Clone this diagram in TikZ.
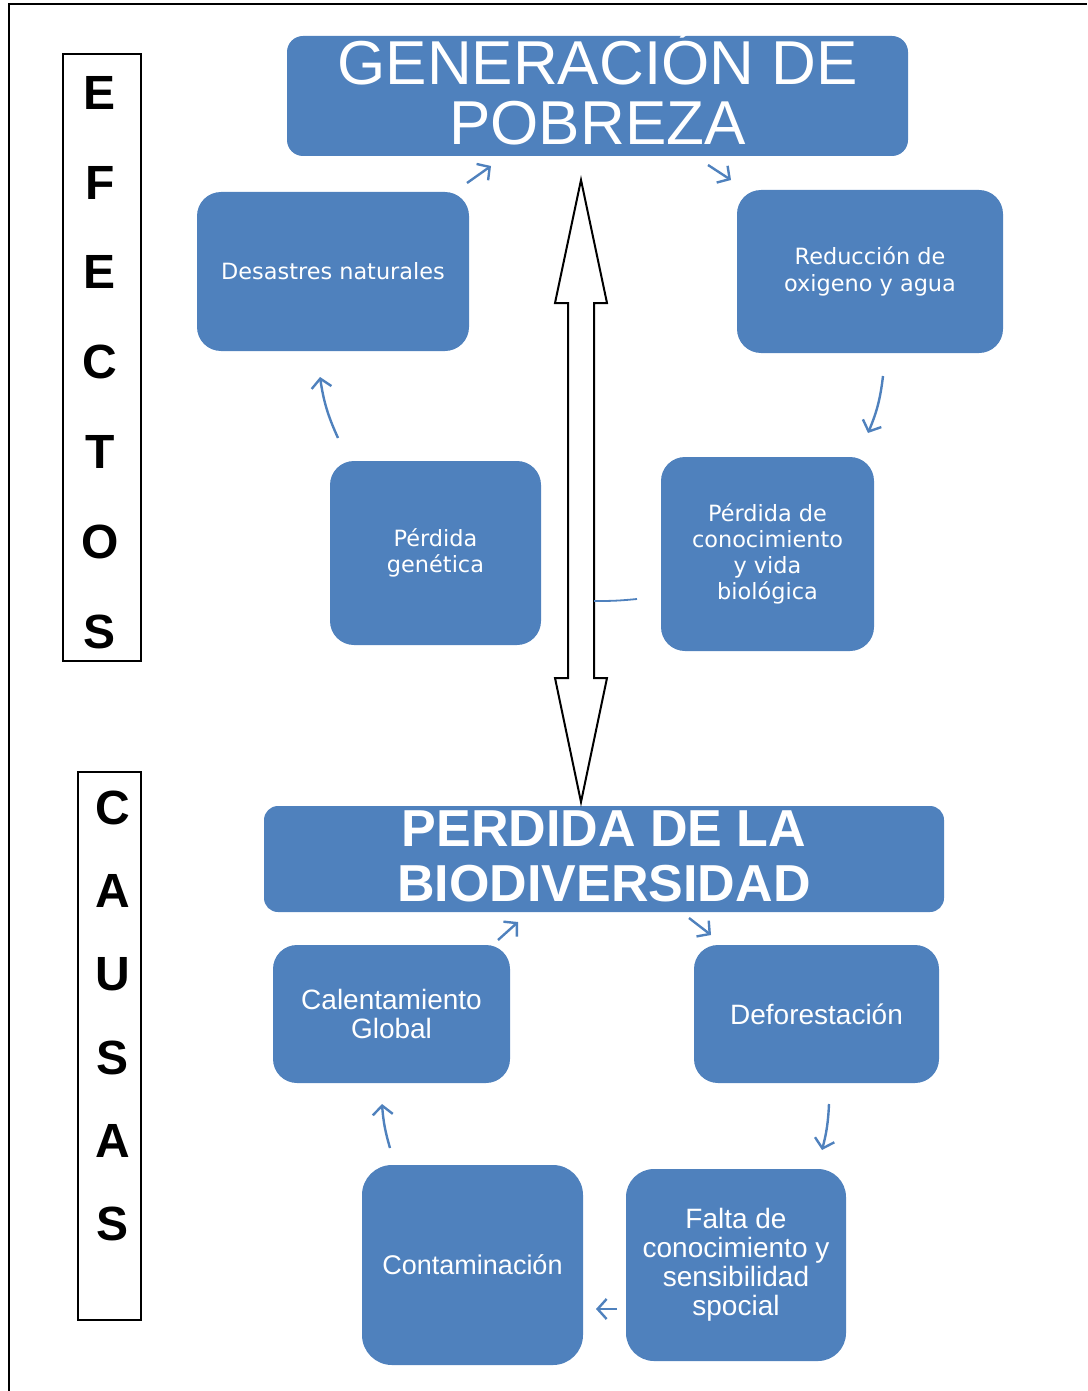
\documentclass[tikz,border=0pt]{standalone}
\usepackage{fontspec}
\setmainfont{Liberation Sans}
\newfontfamily\dvs{DejaVu Sans}
\usetikzlibrary{arrows.meta}
\definecolor{boxblue}{RGB}{79,129,189}
\begin{document}
\begin{tikzpicture}[x=0.5pt,y=-0.5pt,
  bluebox/.style={fill=boxblue, text=white, align=center, inner sep=0pt, rounded corners=12pt},
  whitetext/.style={text=white, align=center, inner sep=0pt},
  smallfont/.style={font=\dvs\fontsize{11.2}{13.3}\selectfont},
  midfont/.style={font=\fontsize{14}{14.5}\selectfont},
  smallarrow/.style={draw=boxblue, line width=1.2pt, -{Straight Barb[length=4.5pt,width=10pt]}},
  labelbox/.style={draw=black, line width=1pt, inner sep=0pt},
  labeltext/.style={align=center, inner sep=0pt, font=\bfseries\fontsize{24}{44.9}\selectfont}]
\useasboundingbox (0,0) rectangle (1087,1391);
% frame
\draw[line width=1pt] (8,4) -- (1087,4);
\draw[line width=0.8pt] (9,4) -- (9,1391);
% side labels
\node[labelbox, minimum width=39pt, minimum height=303.5pt] (efbox) at (102,357.5) {};
\node[labeltext] (eftext) at (100,362.5) {E\\F\\E\\C\\T\\O\\S};
\node[labelbox, minimum width=31.5pt, minimum height=274pt] (cabox) at (109.5,1046) {};
\node[labeltext, font=\bfseries\fontsize{24}{41.6}\selectfont] (catext) at (113,1016) {C\\A\\U\\S\\A\\S};
% top boxes
\node[bluebox, minimum width=310.5pt, minimum height=60pt, rounded corners=8pt] (gen) at (597.5,96) {};
\node[whitetext, font=\fontsize{31}{30}\selectfont] (gentext) at (597.5,88) {GENERACIÓN DE\\POBREZA};
\node[bluebox, smallfont, minimum width=136pt, minimum height=79.5pt] (des) at (333,271.5) {Desastres naturales};
\node[bluebox, smallfont, minimum width=133pt, minimum height=81.5pt] (red) at (870,271.5) {Reducción de\\oxigeno y agua};
\node[bluebox, smallfont, minimum width=105.5pt, minimum height=92pt] (pgen) at (435.5,553) {Pérdida\\genética};
\node[bluebox, smallfont, font=\dvs\fontsize{11.2}{13}\selectfont, minimum width=106.5pt, minimum height=97pt] (pcon) at (767.5,554) {Pérdida de\\conocimiento\\y vida\\biológica};
% bottom boxes
\node[bluebox, minimum width=340pt, minimum height=53pt, rounded corners=7pt] (per) at (604,859) {};
\node[whitetext, font=\bfseries\fontsize{26}{27.5}\selectfont] (pertext) at (604,856) {PERDIDA DE LA\\BIODIVERSIDAD};
\node[bluebox, midfont, minimum width=118.5pt, minimum height=69pt] (cal) at (391.5,1014) {Calentamiento\\Global};
\node[bluebox, midfont, minimum width=122.5pt, minimum height=69pt] (def) at (816.5,1014) {Deforestación};
\node[bluebox, font=\fontsize{13.5}{14.5}\selectfont, minimum width=110.5pt, minimum height=100pt, rounded corners=15pt] (con) at (472.5,1265) {Contaminación};
\node[bluebox, midfont, minimum width=110pt, minimum height=96pt, rounded corners=14pt] (fal) at (736,1265) {Falta de\\conocimiento y\\sensibilidad\\spocial};
% double arrow between gen and per
\coordinate (datop) at (581,180);
\coordinate (dabot) at (581,802);
\draw[line width=1pt, fill=white, line join=miter]
  (datop) -- (607,303) -- (594,303) -- (594,678) -- (607,678) -- (dabot)
  -- (555,678) -- (568,678) -- (568,303) -- (555,303) -- cycle;
% thin blue line
\coordinate (ls) at (594,601);
\coordinate (le) at (637,599);
\draw[boxblue, line width=0.9pt] (ls) to[bend right=3] (le);
% small arrows (top)
\coordinate (a1s) at (467,183); \coordinate (a1e) at (491,166);
\coordinate (a2s) at (708,165); \coordinate (a2e) at (731,180);
\coordinate (a3s) at (338,438); \coordinate (a3e) at (320,377);
\coordinate (a4s) at (883,376); \coordinate (a4e) at (868,433);
\draw[smallarrow] (a1s) -- (a1e);
\draw[smallarrow] (a2s) -- (a2e);
\draw[smallarrow] (a3s) to[bend left=8] (a3e);
\draw[smallarrow] (a4s) to[bend left=8] (a4e);
% small arrows (bottom)
\coordinate (b1s) at (498,940); \coordinate (b1e) at (518,922);
\coordinate (b2s) at (689,918); \coordinate (b2e) at (711,935);
\coordinate (b3s) at (390,1148); \coordinate (b3e) at (382,1104);
\coordinate (b4s) at (829,1104); \coordinate (b4e) at (822,1150);
\coordinate (b5s) at (617,1309); \coordinate (b5e) at (596,1309);
\draw[smallarrow] (b1s) -- (b1e);
\draw[smallarrow] (b2s) -- (b2e);
\draw[smallarrow] (b3s) to[bend left=6] (b3e);
\draw[smallarrow] (b4s) to[bend left=6] (b4e);
\draw[smallarrow] (b5s) -- (b5e);
\end{tikzpicture}
\end{document}
